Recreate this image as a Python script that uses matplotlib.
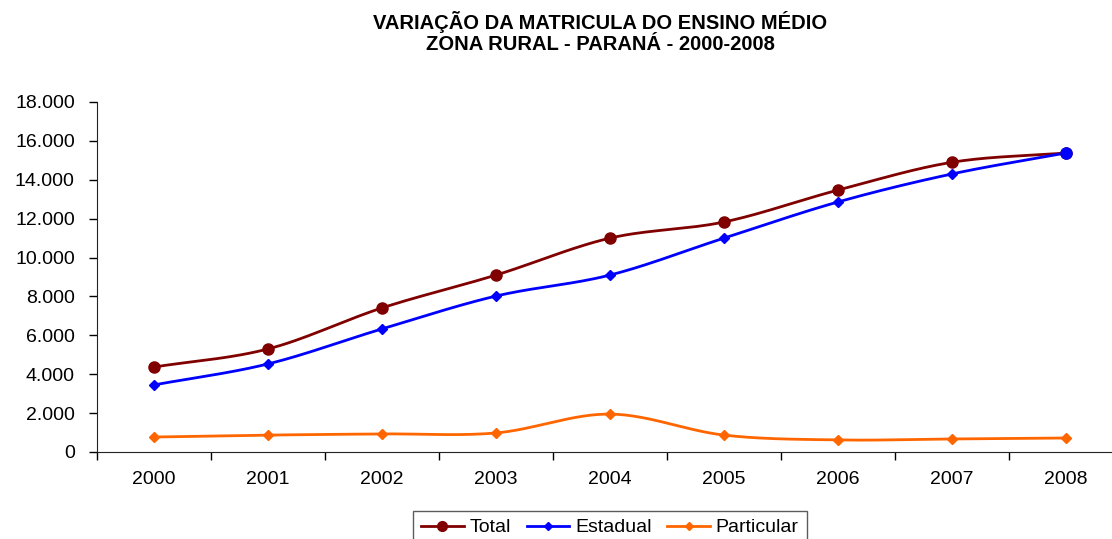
import numpy as np
import matplotlib.pyplot as plt
from matplotlib.ticker import FixedLocator, FuncFormatter

anos = ['2000', '2001', '2002', '2003', '2004', '2005', '2006', '2007', '2008']
total = [4370, 5300, 7410, 9100, 11000, 11830, 13470, 14900, 15380]
estadual = [3450, 4530, 6330, 8020, 9100, 11000, 12860, 14300, 15380]
particular = [770, 870, 930, 980, 1950, 870, 620, 670, 720]

plt.rcParams['font.family'] = ['Liberation Sans', 'DejaVu Sans']


def suave(y, n=30):
    # curva suavizada tipo Catmull-Rom passando pelos pontos
    x = np.arange(len(y), dtype=float)
    y = np.asarray(y, dtype=float)
    px = np.concatenate([[2 * x[0] - x[1]], x, [2 * x[-1] - x[-2]]])
    py = np.concatenate([[2 * y[0] - y[1]], y, [2 * y[-1] - y[-2]]])
    xs, ys = [], []
    t = np.linspace(0, 1, n)
    for i in range(1, len(px) - 2):
        for p, out in ((px, xs), (py, ys)):
            p0, p1, p2, p3 = p[i - 1], p[i], p[i + 1], p[i + 2]
            out.extend(0.5 * ((2 * p1) + (-p0 + p2) * t
                              + (2 * p0 - 5 * p1 + 4 * p2 - p3) * t ** 2
                              + (-p0 + 3 * p1 - 3 * p2 + p3) * t ** 3))
    return np.array(xs), np.array(ys)


fig = plt.figure(figsize=(11.12, 5.39), dpi=100)
ax = fig.add_axes([97 / 1112, 87 / 539, 1026 / 1112, 350 / 539])

x = np.arange(len(anos))
series = [
    (total, '#800000', 'o', 8, 'Total'),
    (estadual, '#0000FF', 'D', 5, 'Estadual'),
    (particular, '#FF6600', 'D', 5, 'Particular'),
]
for vals, cor, mk, ms, nome in series:
    sx, sy = suave(vals)
    ax.plot(sx, sy, color=cor, lw=2, zorder=2)
    ax.plot(x, vals, color=cor, lw=2, marker=mk, ms=ms, ls='none', zorder=3)
    ax.plot([], [], color=cor, lw=2, marker=mk, ms=ms - 1, label=nome)

# ponto de 2008 aparece como círculo azul
ax.plot(x[-1], estadual[-1], 'o', color='#0000FF', ms=8, zorder=4)

ax.set_xlim(-0.5, len(anos) - 0.5)
ax.set_ylim(0, 18000)
ax.set_yticks(np.arange(0, 18001, 2000))
ax.yaxis.set_major_formatter(FuncFormatter(lambda v, p: f'{int(v):,}'.replace(',', '.')))

ax.xaxis.set_major_locator(FixedLocator(np.arange(-0.5, len(anos), 1)))
ax.xaxis.set_major_formatter(FuncFormatter(lambda v, p: ''))
ax.set_xticks(x, minor=True)
ax.set_xticklabels(anos, minor=True)
ax.tick_params(axis='x', which='minor', length=0, pad=14, labelsize=14)
ax.tick_params(axis='x', which='major', length=6, direction='out', width=1)
ax.tick_params(axis='y', length=6, direction='out', width=1, labelsize=14, pad=10)

for s in ['top', 'right']:
    ax.spines[s].set_visible(False)
ax.spines['left'].set_color('#222222')
ax.spines['bottom'].set_color('#222222')

fig.text(0.54, 0.979, 'VARIAÇÃO DA MATRICULA DO ENSINO MÉDIO\nZONA RURAL - PARANÁ - 2000-2008',
         ha='center', va='top', fontsize=14.5, fontweight='bold', linespacing=1.1)

leg = fig.legend(loc='upper center', bbox_to_anchor=(0.5485, 0.052), ncol=3, frameon=True,
                 fancybox=False, edgecolor='#333333', fontsize=14, handlelength=2.2,
                 handletextpad=0.3, columnspacing=0.8, borderpad=0.4, borderaxespad=0)
leg.get_frame().set_linewidth(1)

fig.savefig('out.png', dpi=100)
